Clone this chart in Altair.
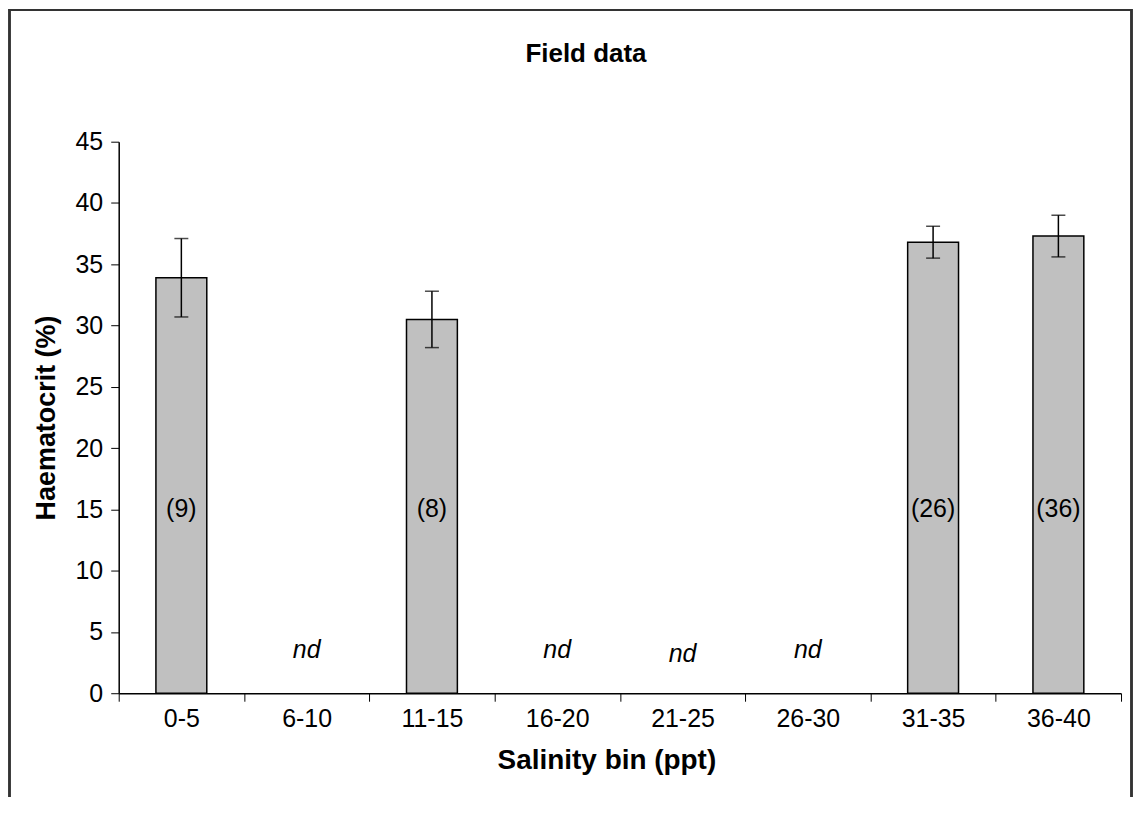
import altair as alt
import pandas as pd

# ---- data ----
categories = ["0-5", "6-10", "11-15", "16-20", "21-25", "26-30", "31-35", "36-40"]
bar_bins = ["0-5", "11-15", "31-35", "36-40"]
bar_means = [33.9, 30.5, 36.8, 37.3]
bar_errors = [3.2, 2.3, 1.3, 1.7]
bar_n = ["(9)", "(8)", "(26)", "(36)"]
n_label_y = 15
nd_bins = ["6-10", "16-20", "21-25", "26-30"]
nd_y = [3.5, 3.5, 3.2, 3.5]
y_ticks = [0, 5, 10, 15, 20, 25, 30, 35, 40, 45]

FONT = "Liberation Sans"

bars_df = pd.DataFrame({
    "bin": bar_bins,
    "mean": bar_means,
    "lo": [m - e for m, e in zip(bar_means, bar_errors)],
    "hi": [m + e for m, e in zip(bar_means, bar_errors)],
    "n": bar_n,
    "ny": [n_label_y] * len(bar_bins),
})
nd_df = pd.DataFrame({"bin": nd_bins, "y": nd_y, "label": ["nd"] * len(nd_bins)})

W, H = 1005, 553
PAD_L, PAD_T, PAD_R, PAD_B = 111, 133, 12, 104

x_enc = alt.X(
    "bin:N",
    sort=categories,
    scale=alt.Scale(domain=categories, paddingInner=0, paddingOuter=0),
    axis=alt.Axis(
        title="Salinity bin (ppt)",
        titleFont=FONT, titleFontSize=28, titleFontWeight="bold", titleColor="black",
        titleX=489, titleY=67, titleBaseline="middle", titleAnchor="start", titleAlign="center",
        labelFont=FONT, labelFontSize=25, labelColor="black", labelAngle=0,
        labelPadding=5,
        tickBand="extent", tickSize=8, tickColor="black", tickWidth=1,
        domainColor="black", domainWidth=1.5, grid=False,
    ),
)
y_scale = alt.Scale(domain=[0, 45], nice=False, zero=True)
y_axis = alt.Axis(
    title="Haematocrit (%)",
    titleFont=FONT, titleFontSize=27, titleFontWeight="bold", titleColor="black",
    titleX=-72, titleY=H / 2, titleBaseline="middle", titleAngle=-90, titleAnchor="start",
    titleAlign="center",
    labelFont=FONT, labelFontSize=25, labelColor="black", labelPadding=8,
    values=y_ticks, tickSize=8, tickColor="black", tickWidth=1,
    domainColor="black", domainWidth=1.5, grid=False,
)

base = alt.Chart(bars_df)

bars = base.mark_bar(
    width=alt.RelativeBandSize(0.406), color="#C0C0C0", stroke="black", strokeWidth=1.5
).encode(x=x_enc, y=alt.Y("mean:Q", scale=y_scale, axis=y_axis))

err = base.mark_rule(color="black", strokeWidth=1.5).encode(
    x=alt.X("bin:N", sort=categories), y="lo:Q", y2="hi:Q"
)
cap_lo = base.mark_tick(color="black", size=14, thickness=1.5).encode(
    x=alt.X("bin:N", sort=categories), y="lo:Q"
)
cap_hi = base.mark_tick(color="black", size=14, thickness=1.5).encode(
    x=alt.X("bin:N", sort=categories), y="hi:Q"
)
n_text = base.mark_text(font=FONT, fontSize=25, color="black", baseline="middle").encode(
    x=alt.X("bin:N", sort=categories), y="ny:Q", text="n:N"
)
nd_text = alt.Chart(nd_df).mark_text(
    font=FONT, fontSize=25, fontStyle="italic", color="black", baseline="middle"
).encode(x=alt.X("bin:N", sort=categories), y="y:Q", text="label:N")

# outer frame of the figure (decoration, pixel positions relative to the plot)
frame_left = alt.Chart(bars_df).mark_rule(color="#333333", strokeWidth=2).encode(
    x=alt.value(-PAD_L + 1.5), y=alt.value(-PAD_T), y2=alt.value(H + PAD_B)
)
frame_top = alt.Chart(bars_df).mark_rule(color="#333333", strokeWidth=2).encode(
    y=alt.value(-PAD_T + 1), x=alt.value(-PAD_L + 1), x2=alt.value(W + PAD_R - 1)
)
frame_right = alt.Chart(bars_df).mark_rule(color="#333333", strokeWidth=2).encode(
    x=alt.value(W + PAD_R - 1.5), y=alt.value(-PAD_T), y2=alt.value(H + PAD_B)
)

chart = alt.layer(
    bars, err, cap_lo, cap_hi, n_text, nd_text, frame_left, frame_top, frame_right
).properties(
    width=W,
    height=H,
    title=alt.TitleParams(
        "Field data", font=FONT, fontSize=26, fontWeight="bold", color="black",
        anchor="middle", offset=0, dx=-34, dy=72, baseline="middle",
    ),
    autosize=alt.AutoSizeParams(type="none"),
    padding={"left": PAD_L, "top": PAD_T, "right": PAD_R, "bottom": PAD_B},
).configure(background="white", view=alt.ViewConfig(stroke=None))

chart.save("out.html", embed_options={"renderer": "svg", "actions": False})
